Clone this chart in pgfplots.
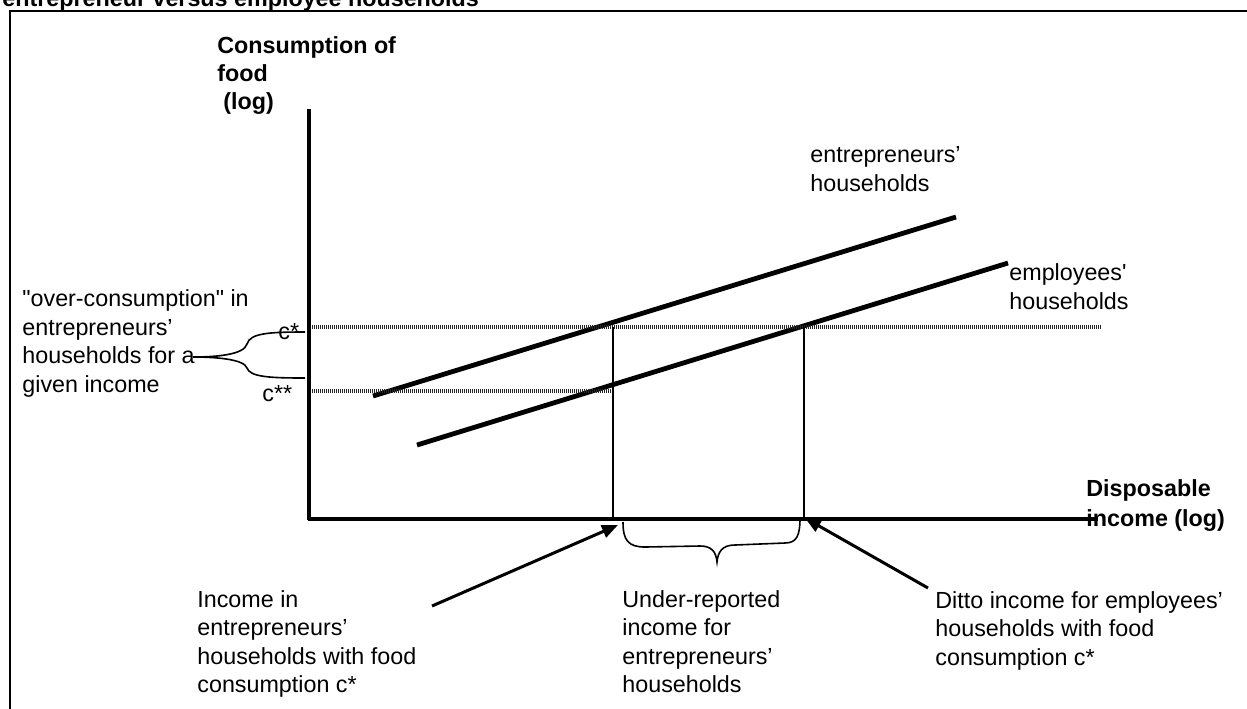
\documentclass[border=0pt]{standalone}
\usepackage{pgfplots}
\pgfplotsset{compat=1.18}
\usetikzlibrary{arrows.meta}
\usepackage{fontspec}
\setmainfont{Liberation Sans}
\newfontfamily\arial{Liberation Sans}
\newcommand{\fs}{\arial\fontsize{11.65pt}{14pt}\selectfont}
\newcommand{\fb}{\arial\bfseries\fontsize{11.65pt}{14pt}\selectfont}
\newcommand{\tl}[3]{\node[anchor=base west, inner sep=0pt, font=\fs] at (axis cs:#1,#2) {#3};}
\newcommand{\tb}[3]{\node[anchor=base west, inner sep=0pt, font=\fb] at (axis cs:#1,#2) {#3};}
\begin{document}
\begin{tikzpicture}
\useasboundingbox (0,0) rectangle (623.5pt,354pt);
\begin{scope}
\clip (0,0) rectangle (623.5pt,354pt);
\begin{axis}[at={(0,0)}, anchor=south west, scale only axis,
  width=623.5pt, height=354pt, xmin=0, xmax=1247, ymin=0, ymax=708,
  y dir=reverse, axis lines=none, clip=false]
% frame
\draw[line width=1pt] (axis cs:10,720) -- (axis cs:10,11) -- (axis cs:1260,11);
% axes
\addplot[black, line width=1.7pt, mark=none] coordinates {(309,109) (309,520)};
\addplot[black, line width=1.7pt, mark=none] coordinates {(308,519) (1098,519)};
% consumption lines
\addplot[black, line width=2.4pt, mark=none] coordinates {(373,396) (956,217)};
\addplot[black, line width=2.4pt, mark=none] coordinates {(417,445) (1008,263)};
% dotted levels
\addplot[black!85, line width=1.8pt, dash pattern=on 0.5pt off 0.5pt, mark=none] coordinates {(312,327) (1102,327)};
\addplot[black!85, line width=1.8pt, dash pattern=on 0.5pt off 0.5pt, mark=none] coordinates {(312,391) (613,391)};
% verticals
\addplot[black, line width=1.4pt, mark=none] coordinates {(613,327) (613,519)};
\addplot[black, line width=1.4pt, mark=none] coordinates {(804,327) (804,519)};
% arrows
\draw[line width=1.5pt, -{Triangle[length=8pt,width=6.5pt]}] (axis cs:432,606) -- (axis cs:618,525);
\draw[line width=1.5pt, -{Triangle[length=8pt,width=6.5pt]}] (axis cs:928,588) -- (axis cs:805,518);
% left brace
\draw[line width=0.8pt] (axis cs:305,332) .. controls (axis cs:270,332) and (axis cs:250,333) .. (axis cs:247,344)
  .. controls (axis cs:244,355) and (axis cs:215,357) .. (axis cs:193,357)
  .. controls (axis cs:215,357) and (axis cs:244,359) .. (axis cs:247,368)
  .. controls (axis cs:250,377) and (axis cs:270,378) .. (axis cs:305,378);
% bottom brace
\draw[line width=0.8pt] (axis cs:623,522) .. controls (axis cs:623,540) and (axis cs:628,547) .. (axis cs:645,547)
  -- (axis cs:700,546) .. controls (axis cs:712,546) and (axis cs:716,552) .. (axis cs:717,562)
  .. controls (axis cs:718,552) and (axis cs:722,545) .. (axis cs:735,545)
  -- (axis cs:785,543) .. controls (axis cs:797,543) and (axis cs:800,535) .. (axis cs:800,518);
% title (cut off)
\tb{2}{6}{entrepreneur versus employee households}
% axis titles
\tb{217}{53}{Consumption of}
\tb{217}{81}{food}
\tb{223}{109}{(log)}
\tb{1086}{496}{Disposable}
\tb{1086}{526}{income (log)}
% curve labels
\tl{810}{162}{entrepreneurs’}
\tl{810}{191}{households}
\tl{1009}{280}{employees'}
\tl{1009}{309}{households}
% left annotation
\tl{22}{306}{"over-consumption" in}
\tl{22}{335}{entrepreneurs’}
\tl{22}{363}{households for a}
\tl{22}{392}{given income}
\tl{278}{339}{c*}
\tl{262}{401}{c**}
% bottom annotations
\tl{197}{607}{Income in}
\tl{197}{635.5}{entrepreneurs’}
\tl{197}{664}{households with food}
\tl{197}{692.5}{consumption c*}
\tl{622}{607}{Under-reported}
\tl{622}{635.5}{income for}
\tl{622}{664}{entrepreneurs’}
\tl{622}{692.5}{households}
\tl{935}{608}{Ditto income for employees’}
\tl{935}{636.5}{households with food}
\tl{935}{665}{consumption c*}
\end{axis}
\end{scope}
\end{tikzpicture}
\end{document}
